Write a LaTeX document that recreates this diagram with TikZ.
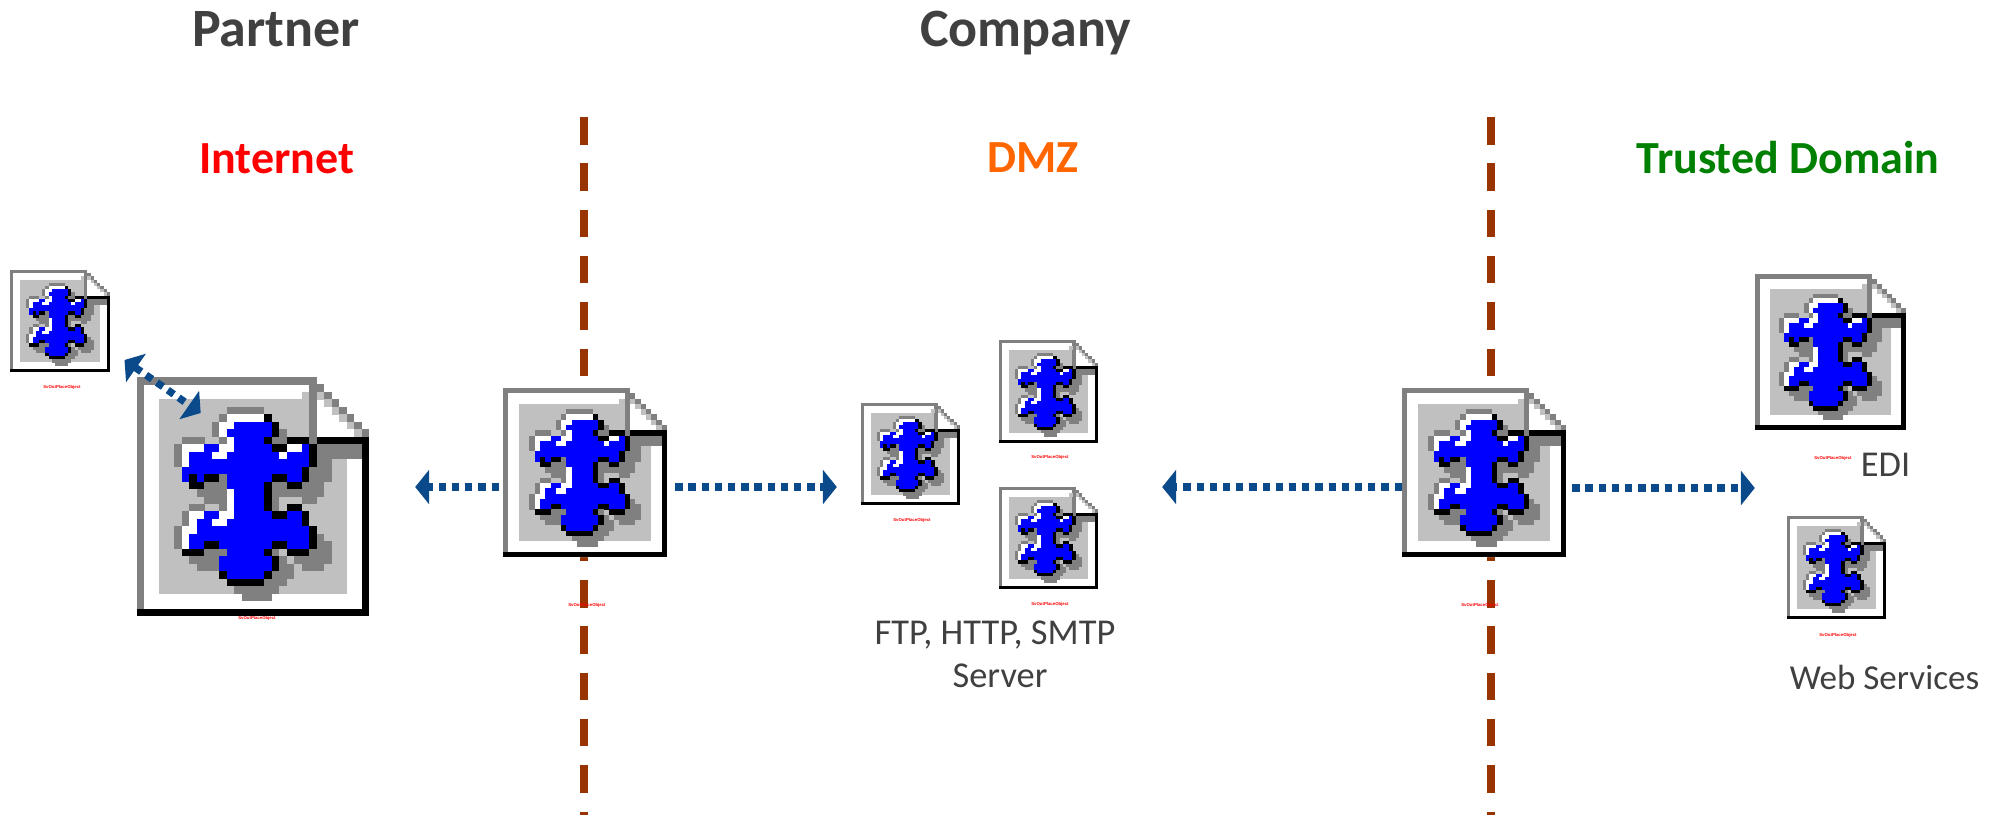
\documentclass[tikz,border=0pt]{standalone}
\usepackage{fontspec}
\setmainfont{Carlito}
\newfontfamily\lblfont{Liberation Sans}
\usetikzlibrary{arrows.meta}
\definecolor{icG}{HTML}{808080}
\definecolor{icK}{HTML}{000000}
\definecolor{icB}{HTML}{0000FF}
\definecolor{icW}{HTML}{FFFFFF}
\definecolor{icS}{HTML}{C0C0C0}
\definecolor{linkblue}{HTML}{0B4A8A}
\definecolor{seprust}{HTML}{993300}
\definecolor{txtgray}{HTML}{404040}
\definecolor{dmzorange}{HTML}{FF6600}
\definecolor{trustgreen}{HTML}{008000}
\tikzset{
  sepline/.style={draw=seprust,line width=7.5pt,dash pattern=on 27.5pt off 18.8pt},
  link/.style={draw=linkblue,line width=7.3pt,dash pattern=on 7.3pt off 5.9pt,
    -{Triangle[length=14pt,width=34pt,color=linkblue,sep=0pt]}},
  duallink/.style={link,{Triangle[length=14pt,width=34pt,color=linkblue]}-{Triangle[length=14pt,width=34pt,color=linkblue]}},
  title/.style={inner sep=0pt,anchor=base,text=txtgray,font=\fontsize{54}{60}\selectfont\bfseries},
  zone/.style={inner sep=0pt,anchor=base,font=\fontsize{46}{52}\selectfont\bfseries},
  caption/.style={inner sep=0pt,text=txtgray,font=\fontsize{36.4}{42.5}\selectfont,align=center},
  errlabel/.style={inner sep=0pt,text=red,font=\lblfont\fontsize{4.3}{5}\selectfont\bfseries},
  iconbox/.style={inner sep=0pt,minimum width=#1}
}
\newcommand\icrow[2]{\def\icr{#1}\foreach \icc/\ica/\icb in {#2}{\fill[fill=ic\icc] (\ica,\icr) rectangle (\icb+1.02,\icr+1.02);}}
\newcommand\iconpixels{%
  \fill[white] (0,0) -- (24,0) -- (31,7) -- (31,32) -- (0,32) -- cycle;
  \fill[icS] (3,3) rectangle (23,29);
  \fill[icS] (23,9) rectangle (28,29);
  \icrow{0}{G/0/23}
  \fill[icG] (0,0) rectangle (1,32);
  \fill[icG] (23,0) rectangle (24,9);
  \icrow{1}{G/24/24}
  \icrow{2}{S/22/22,S/24/24,G/25/25}
  \icrow{3}{S/25/25,G/26/26}
  \icrow{4}{G/12/16,S/26/26,G/27/27}
  \icrow{5}{G/11/11,W/12/16,K/17/17,S/27/27,G/28/28}
  \icrow{6}{G/10/10,W/11/12,B/13/17,K/18/18,S/28/28,G/29/29}
  \icrow{7}{G/10/10,W/11/11,B/12/17,K/18/18,G/19/19,S/29/29,G/30/30}
  \icrow{8}{G/6/8,G/11/11,W/12/12,B/13/16,K/17/17,G/18/19,K/20/22,K/24/30}
  \icrow{9}{G/5/5,W/6/8,B/9/10,W/11/12,B/13/17,K/18/19,W/20/21,B/22/22,K/23/23,G/24/29}
  \icrow{10}{G/5/5,W/6/6,B/7/9,W/10/11,B/12/18,W/19/19,B/20/22,K/23/23,G/24/29}
  \icrow{11}{G/5/5,W/6/6,B/7/22,K/23/23,G/24/25}
  \icrow{12}{B/6/21,K/22/22,G/23/25}
  \icrow{13}{B/6/6,K/7/7,B/8/8,K/9/10,G/11/11,B/12/17,K/18/19,B/20/21,K/22/22,G/23/25}
  \icrow{14}{K/7/8,G/9/11,B/12/16,K/17/17,G/18/19,K/20/21,G/22/24}
  \icrow{15}{G/8/11,W/12/12,B/13/16,K/17/17,G/18/24}
  \icrow{16}{G/9/11,W/12/12,B/13/16,K/17/17,G/18/18,G/22/23}
  \icrow{17}{G/7/8,G/11/11,W/12/12,B/13/16,K/17/17,G/18/18,K/20/21}
  \icrow{18}{G/6/6,W/7/8,B/9/10,W/11/12,B/13/17,K/18/19,B/20/21,K/22/22}
  \icrow{19}{G/6/6,W/7/7,B/8/9,W/10/11,B/12/21,K/22/22}
  \icrow{20}{G/5/5,W/6/7,B/8/22,K/23/23}
  \icrow{21}{G/5/5,W/6/6,B/7/22,K/23/23,G/24/24}
  \icrow{22}{G/5/5,W/6/6,B/7/8,K/9/10,B/11/17,K/18/19,B/20/22,K/23/23,G/24/25}
  \icrow{23}{K/6/8,G/9/11,B/12/16,K/17/17,G/18/18,K/20/22,G/23/25}
  \icrow{24}{G/7/10,B/11/17,K/18/18,G/19/19,G/21/25}
  \icrow{25}{G/8/10,B/11/17,K/18/18,G/19/20,G/22/24}
  \icrow{26}{K/11/11,B/12/16,K/17/17,G/18/20}
  \icrow{27}{K/12/16,G/17/19}
  \icrow{28}{G/13/18}
  \icrow{29}{G/14/17}
  \fill[black] (30,8) rectangle (31,32);
  \fill[black] (0,31) rectangle (31,32);
}
% name, x0, y0, x1, y1, label x, label y
\newcommand\icon[7]{%
  \pgfmathsetmacro\icw{#4-#2}\pgfmathsetmacro\ich{#5-#3}%
  \begin{scope}[shift={(#2,#3)},x=\icw/31*1pt,y=-\ich/32*1pt]
    \iconpixels
  \end{scope}
  \node[inner sep=0pt,minimum width=\icw pt,minimum height=\ich pt] (#1) at ({(#2+#4)/2},{(#3+#5)/2}) {};
  \node[errlabel] (#1-label) at (#6,#7) {SvOutPlaceObject};
}
\begin{document}
\begin{tikzpicture}[x=1pt,y=-1pt]
\useasboundingbox (0,0) rectangle (1992,815);
\coordinate (s1t) at (584,117); \coordinate (s1b) at (584,815);
\coordinate (s2t) at (1491,117); \coordinate (s2b) at (1491,815);
\draw[sepline] (s1t) -- (s1b);
\draw[sepline] (s2t) -- (s2b);

\node[title] (partner) at (276,46) {Partner};
\node[title] (company) at (1025.5,46) {Company};
\node[zone,text=red] (internet) at (276.5,173) {Internet};
\node[zone,text=dmzorange] (dmz) at (1033,172.5) {DMZ};
\node[zone,text=trustgreen] (trusted) at (1788,173.5) {Trusted Domain};

\icon{small}{10}{270}{110}{372}{62}{387}
\icon{big}{137}{377}{369}{616}{257}{618}
\icon{fwa}{503}{388}{667}{557}{587}{605}
\icon{fwb}{1402}{388}{1566}{557}{1480}{605}
\icon{dmza}{861}{403}{960}{505}{912}{520}
\icon{dmzb}{999}{340}{1098}{443}{1050}{457}
\icon{dmzc}{999}{487}{1098}{589}{1050}{604}
\icon{edi}{1755}{274}{1906}{430}{1833}{458}
\icon{web}{1787}{516}{1886}{619}{1838}{635}

\node[caption] (ftp) at (995,654.5) {FTP, HTTP, SMTP\\\hspace*{10pt}Server};
\node[caption,anchor=base] (editext) at (1885.5,476.3) {EDI};
\node[caption,anchor=base,font=\fontsize{35}{42}\selectfont] (webtext) at (1884.5,689) {Web Services};

\coordinate (ya) at (0,487); \coordinate (yb) at (0,488);
\draw[link,shorten <=4pt,shorten >=46pt] (fwa.west |- ya) -- (big.east |- ya);
\draw[link,shorten <=8pt,shorten >=24pt] (fwa.east |- ya) -- (dmza.west |- ya);
\draw[link,shorten >=202pt] (fwb.west |- ya) -- (dmza.east |- ya);
\draw[link,shorten <=6pt] (fwb.east |- yb) -- (edi.west |- yb);
\coordinate (da) at (124.5,360); \coordinate (db) at (200.7,413);
\draw[duallink] (da) -- (db);
\end{tikzpicture}
\end{document}
